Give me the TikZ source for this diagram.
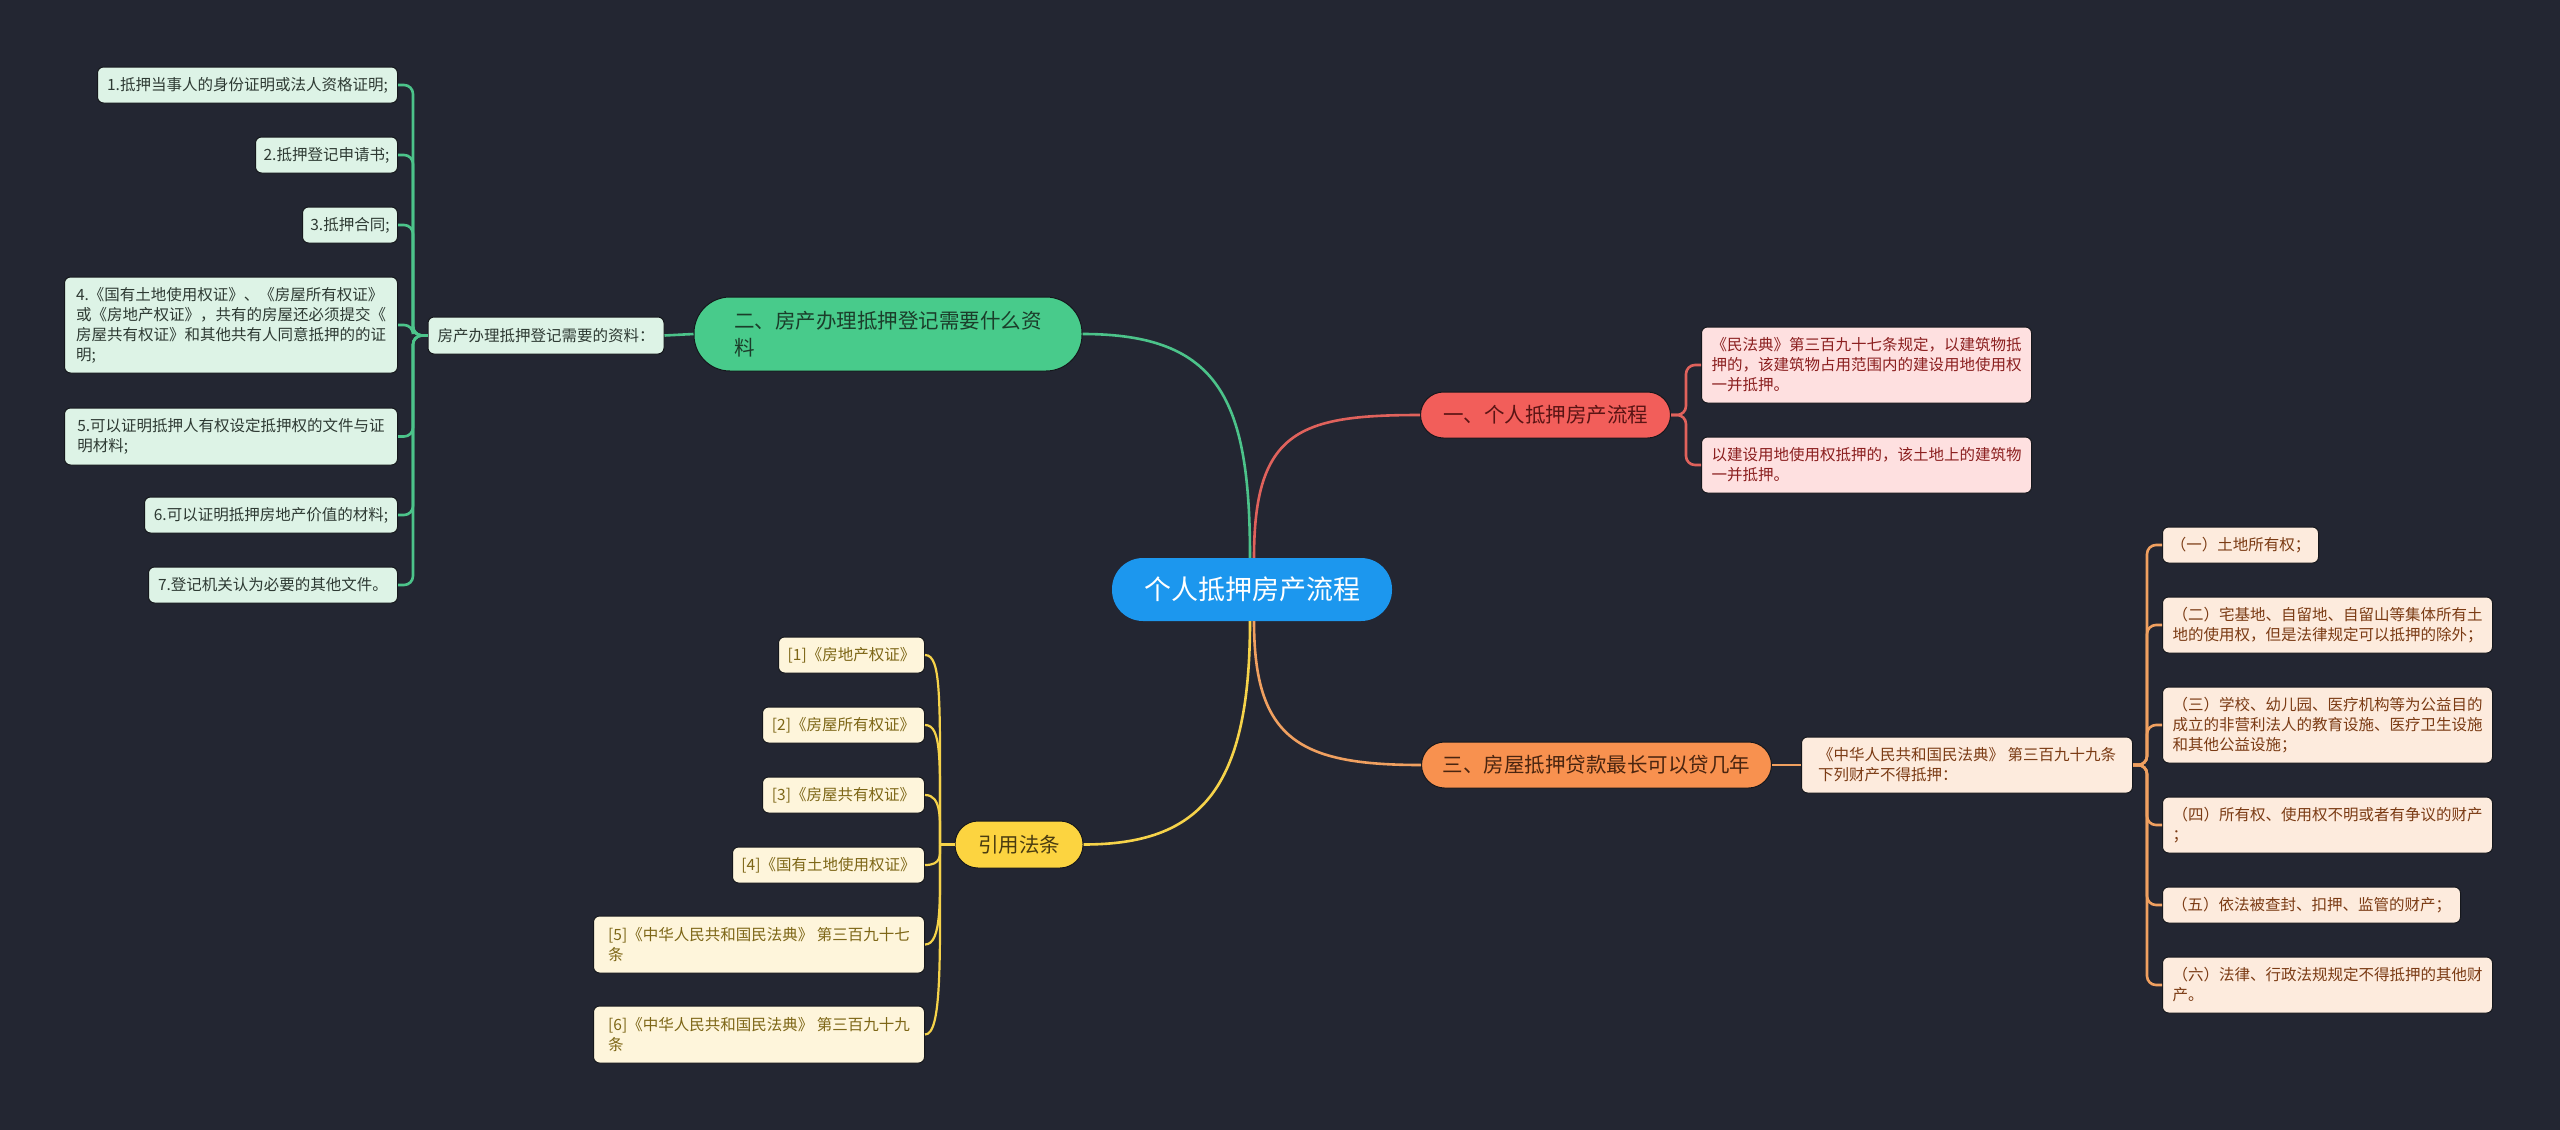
\documentclass[tikz,border=0pt]{standalone}
\usepackage{fontspec}
\setmainfont{Noto Sans CJK SC}
\definecolor{bgc}{HTML}{232632}
\definecolor{cblue}{HTML}{1C97EE}
\definecolor{gnode}{HTML}{48CB8B}
\definecolor{gntext}{HTML}{1B3D2A}
\definecolor{gleaf}{HTML}{DDF3E6}
\definecolor{gtext}{HTML}{2E3A33}
\definecolor{gline}{HTML}{4CC38A}
\definecolor{rnode}{HTML}{F25E5A}
\definecolor{rntext}{HTML}{5A1414}
\definecolor{rleaf}{HTML}{FEE0E0}
\definecolor{rtext}{HTML}{8B1F1F}
\definecolor{rline}{HTML}{E0625C}
\definecolor{onode}{HTML}{F8914F}
\definecolor{ontext}{HTML}{4A2510}
\definecolor{oleaf}{HTML}{FDEBDD}
\definecolor{otext}{HTML}{7B3B14}
\definecolor{oline}{HTML}{F0A060}
\definecolor{ynode}{HTML}{FCD440}
\definecolor{yntext}{HTML}{4A3C10}
\definecolor{yleaf}{HTML}{FEF5DB}
\definecolor{ytext}{HTML}{7D6616}
\definecolor{yline}{HTML}{F6D34A}
\definecolor{edgec}{HTML}{15171C}
\newcommand\lffont{\fontsize{15.5}{20}\selectfont}
\newcommand\lvfont{\fontsize{20.5}{27}\selectfont}
\newcommand\ctfont{\fontsize{27}{32}\selectfont}
\tikzset{
  leafbox/.style={rounded corners=6pt, draw=edgec, line width=1pt, inner sep=0pt, align=left, font=\lffont},
  gleafbox/.style={leafbox, fill=gleaf, text=gtext},
  rleafbox/.style={leafbox, fill=rleaf, text=rtext},
  oleafbox/.style={leafbox, fill=oleaf, text=otext},
  yleafbox/.style={leafbox, fill=yleaf, text=ytext},
  lvbox/.style={draw=edgec, line width=1pt, inner sep=0pt, align=left, font=\lvfont},
  sz/.style 2 args={minimum width=#1, minimum height=#2},
  conn/.style={line width=2.6pt, rounded corners=9pt},
}
\begin{document}
\begin{tikzpicture}[x=1pt,y=-1pt]
\fill[bgc] (0,0) rectangle (2560,1130);
\useasboundingbox (0,0) rectangle (2560,1130);

% central
\node[fill=cblue, text=white, font=\ctfont, rounded corners=31pt, sz={280}{63}, inner sep=0pt] (c) at (1252,589.5) {个人抵押房产流程};

% green branch
\node[lvbox, fill=gnode, text=gntext, rounded corners=36pt, sz={388}{74}] (g1) at (888,334) {二、房产办理抵押登记需要什么资\\料};
\node[gleafbox, sz={236}{37}] (gm) at (546,335.5) {房产办理抵押登记需要的资料：};
\coordinate (gj) at (413,335.5);
\node[gleafbox, sz={300}{36}, anchor=east] (l1) at (398,85) {1.抵押当事人的身份证明或法人资格证明;};
\node[gleafbox, sz={142}{36}, anchor=east] (l2) at (398,155) {2.抵押登记申请书;};
\node[gleafbox, sz={95}{36}, anchor=east] (l3) at (398,225) {3.抵押合同;};
\node[gleafbox, sz={333}{96}, anchor=east] (l4) at (398,325) {4.《国有土地使用权证》、《房屋所有权证》\\或《房地产权证》，共有的房屋还必须提交《\\房屋共有权证》和其他共有人同意抵押的的证\\明;};
\node[gleafbox, sz={333}{57}, anchor=east] (l5) at (398,436.5) {5.可以证明抵押人有权设定抵押权的文件与证\\明材料;};
\node[gleafbox, sz={253}{36}, anchor=east] (l6) at (398,515) {6.可以证明抵押房地产价值的材料;};
\node[gleafbox, sz={249}{36}, anchor=east] (l7) at (398,585) {7.登记机关认为必要的其他文件。};

% red branch
\node[lvbox, fill=rnode, text=rntext, rounded corners=23pt, sz={250}{46}] (r1) at (1545.5,415) {一、个人抵押房产流程};
\coordinate (rj) at (1686,415);
\node[rleafbox, sz={330}{76}, anchor=west] (ra) at (1701,365) {《民法典》第三百九十七条规定，以建筑物抵\\押的，该建筑物占用范围内的建设用地使用权\\一并抵押。};
\node[rleafbox, sz={330}{56}, anchor=west] (rb) at (1701,465) {以建设用地使用权抵押的，该土地上的建筑物\\一并抵押。};

% orange branch
\node[lvbox, fill=onode, text=ontext, rounded corners=23pt, sz={350}{46}] (o1) at (1596.5,765) {三、房屋抵押贷款最长可以贷几年};
\node[oleafbox, sz={331}{56}, anchor=west] (oa) at (1801,765) {《中华人民共和国民法典》 第三百九十九条\\下列财产不得抵押：};
\coordinate (oj) at (2147,765);
\node[oleafbox, sz={156}{36}, anchor=west] (ob1) at (2162,545) {（一）土地所有权；};
\node[oleafbox, sz={330}{56}, anchor=west] (ob2) at (2162,625) {（二）宅基地、自留地、自留山等集体所有土\\地的使用权，但是法律规定可以抵押的除外；};
\node[oleafbox, sz={330}{76}, anchor=west] (ob3) at (2162,725) {（三）学校、幼儿园、医疗机构等为公益目的\\成立的非营利法人的教育设施、医疗卫生设施\\和其他公益设施；};
\node[oleafbox, sz={330}{56}, anchor=west] (ob4) at (2162,825) {（四）所有权、使用权不明或者有争议的财产\\；};
\node[oleafbox, sz={298}{36}, anchor=west] (ob5) at (2162,905) {（五）依法被查封、扣押、监管的财产；};
\node[oleafbox, sz={330}{56}, anchor=west] (ob6) at (2162,985) {（六）法律、行政法规规定不得抵押的其他财\\产。};

% yellow branch
\node[lvbox, fill=ynode, text=yntext, rounded corners=23pt, sz={128}{47}] (y1) at (1019,844.5) {引用法条};
\coordinate (yj) at (940,844.5);
\node[yleafbox, sz={146}{36}, anchor=east] (yc1) at (925,655) {[1]《房地产权证》};
\node[yleafbox, sz={162}{36}, anchor=east] (yc2) at (925,725) {[2]《房屋所有权证》};
\node[yleafbox, sz={162}{36}, anchor=east] (yc3) at (925,795) {[3]《房屋共有权证》};
\node[yleafbox, sz={192}{36}, anchor=east] (yc4) at (925,865) {[4]《国有土地使用权证》};
\node[yleafbox, sz={331}{57}, anchor=east] (yc5) at (925,944.5) {[5]《中华人民共和国民法典》 第三百九十七\\条};
\node[yleafbox, sz={331}{57}, anchor=east] (yc6) at (925,1034.5) {[6]《中华人民共和国民法典》 第三百九十九\\条};

% central connectors
\draw[gline, line width=2.6pt] ([xshift=-2pt]c.north) .. controls (1250,400) and (1220,334) .. (g1.east);
\draw[rline, line width=2.6pt] ([xshift=2pt]c.north) .. controls (1254,430) and (1300,415) .. (r1.west);
\draw[oline, line width=2.6pt] ([xshift=2pt]c.south) .. controls (1254,740) and (1300,765) .. (o1.west);
\draw[yline, line width=2.6pt] ([xshift=-2pt]c.south) .. controls (1250,790) and (1200,844.5) .. (y1.east);

% green connectors
\draw[gline, line width=2.6pt] (g1.west) -- (gm.east);
\foreach \n in {l1,l2,l3,l4,l5,l6,l7}
  \draw[gline, conn] (gm.west) -- (gj) |- (\n.east);

% red connectors
\foreach \n in {ra,rb}
  \draw[rline, conn] (r1.east) -- (rj) |- (\n.west);

% orange connectors
\draw[oline, line width=2.6pt] (o1.east) -- (oa.west);
\foreach \n in {ob1,ob2,ob3,ob4,ob5,ob6}
  \draw[oline, conn] (oa.east) -- (oj) |- (\n.west);

% yellow connectors
\draw[yline, line width=2.6pt] (y1.west) -- (yj);
\draw[yline, line width=2.2pt] (yc1.east) .. controls (942,655) and (940,700) .. (yj);
\draw[yline, line width=2.2pt] (yc2.east) .. controls (942,725) and (940,760) .. (yj);
\draw[yline, line width=2.2pt] (yc3.east) .. controls (942,795) and (940,820) .. (yj);
\draw[yline, line width=2.2pt] (yc4.east) .. controls (942,865) and (940,855) .. (yj);
\draw[yline, line width=2.2pt] (yc5.east) .. controls (942,944.5) and (940,900) .. (yj);
\draw[yline, line width=2.2pt] (yc6.east) .. controls (942,1034.5) and (940,960) .. (yj);
\end{tikzpicture}
\end{document}
